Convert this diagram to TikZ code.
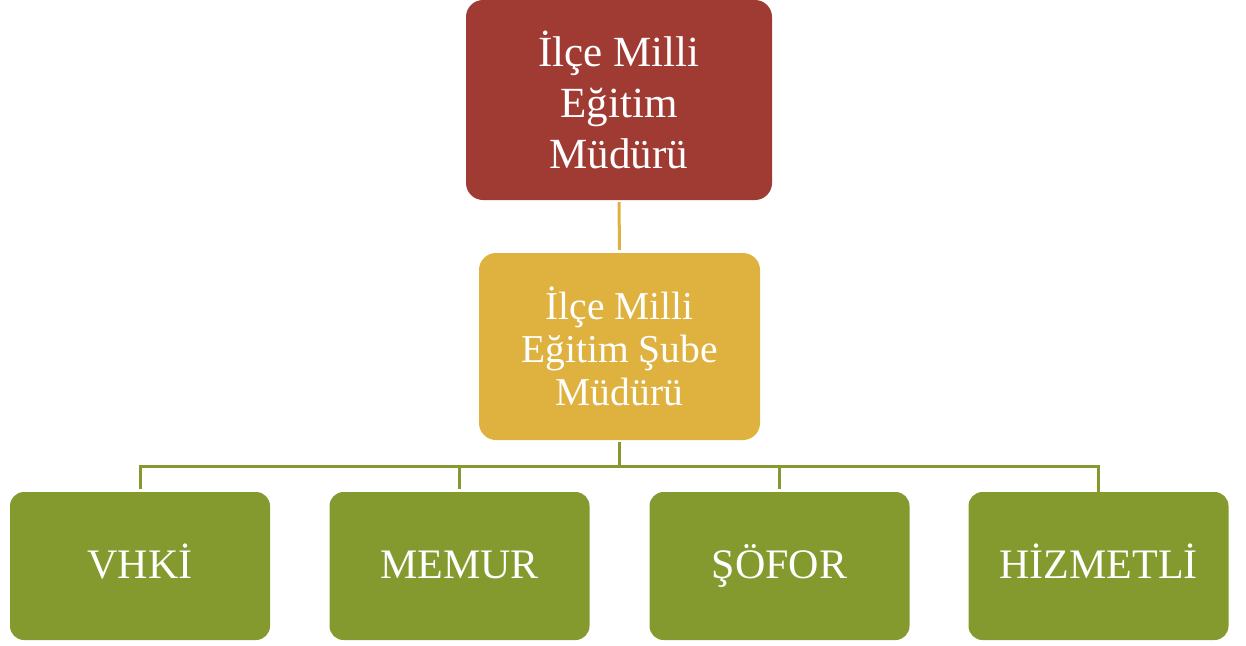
\documentclass[tikz,border=0pt]{standalone}
\usepackage{fontspec}
\setmainfont{Liberation Serif}
\definecolor{topred}{HTML}{A03B33}
\definecolor{midyel}{HTML}{DFB13F}
\definecolor{botgrn}{HTML}{849A2E}
\newcommand{\eqht}{\vphantom{ŞÖİ}}
\tikzset{
  boxbase/.style={rounded corners=17pt, text=white, align=center, inner sep=0pt},
  topbox/.style={boxbase, fill=topred, minimum width=306pt, minimum height=200pt,
    font=\fontsize{43}{51}\selectfont},
  midbox/.style={boxbase, fill=midyel, minimum width=281pt, minimum height=187pt,
    font=\fontsize{39.5}{43}\selectfont},
  botbox/.style={boxbase, rounded corners=14pt, fill=botgrn, minimum width=260pt, minimum height=148pt,
    font=\fontsize{42}{48}\selectfont},
  yline/.style={draw=midyel, line width=3pt},
  gline/.style={draw=botgrn, line width=3pt},
}
\begin{document}
\begin{tikzpicture}[x=1pt,y=-1pt]
\useasboundingbox (0,0) rectangle (1246,645);
\node[topbox] (top) at (619,100) {İlçe Milli\\Eğitim\\Müdürü};
\node[midbox] (mid) at (619.5,346.5) {İlçe Milli\\Eğitim Şube\\Müdürü};
\node[botbox] (b1) at (140,566) {\eqht VHKİ};
\node[botbox] (b2) at (459.5,566) {\eqht MEMUR};
\node[botbox] (b3) at (779.5,566) {\eqht ŞÖFOR};
\node[botbox] (b4) at (1098.5,566) {\eqht HİZMETLİ};
\draw[yline, shorten <=2pt, shorten >=3pt] (top.south) -- (mid.north);
\draw[gline, shorten <=2pt] (mid.south) -- ++(0,26) coordinate (bus);
\draw[gline, shorten <=3pt] (b1.north) -- (b1.north |- bus) -- (b4.north |- bus) -- (b4.north);
\draw[gline, shorten <=3pt] (b2.north) -- (b2.north |- bus);
\draw[gline, shorten <=3pt] (b3.north) -- (b3.north |- bus);
\end{tikzpicture}
\end{document}
